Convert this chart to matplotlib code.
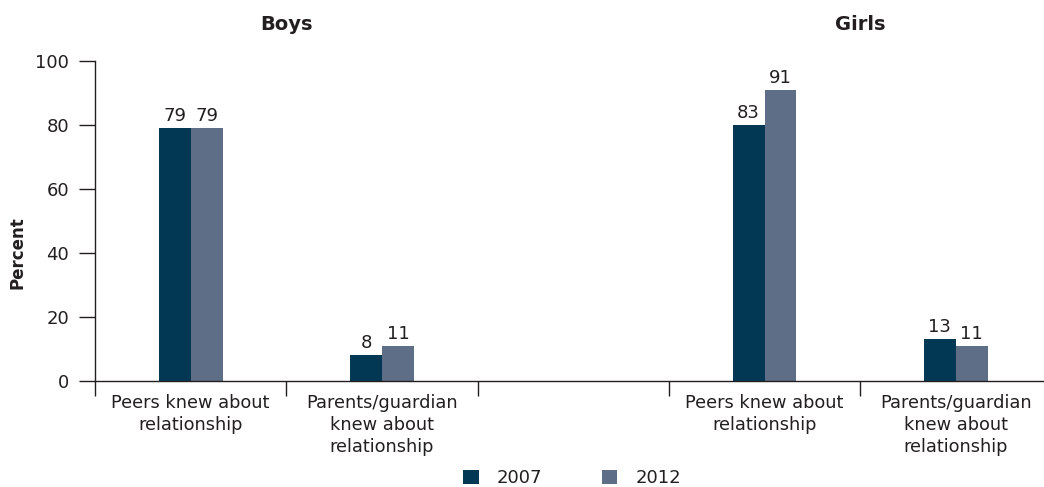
import matplotlib.pyplot as plt
import numpy as np

# data
categories = ["Peers knew about\nrelationship", "Parents/guardian\nknew about\nrelationship", "",
              "Peers knew about\nrelationship", "Parents/guardian\nknew about\nrelationship"]
years = ["2007", "2012"]
heights_2007 = [79, 8, np.nan, 80, 13]   # girls peers bar is drawn at 80 in the source
heights_2012 = [79, 11, np.nan, 91, 11]
labels_2007 = ["79", "8", "", "83", "13"]
labels_2012 = ["79", "11", "", "91", "11"]
groups = ["Boys", "Girls"]
yticks = [0, 20, 40, 60, 80, 100]

c07 = "#033855"
c12 = "#5f6e87"
txt = "#231f20"

plt.rcParams['font.family'] = ['DejaVu Sans']

fig = plt.figure(figsize=(10.44, 4.87), dpi=100)
ax = fig.add_axes([95 / 1044, 106 / 487, 956.5 / 1044, 320 / 487])

x = np.arange(len(categories))
w = 0.167
b1 = ax.bar(x - w / 2, heights_2007, w, color=c07, label=years[0])
b2 = ax.bar(x + w / 2, heights_2012, w, color=c12, label=years[1])

for bars, labs in ((b1, labels_2007), (b2, labels_2012)):
    for r, lab in zip(bars, labs):
        if lab:
            ax.text(r.get_x() + r.get_width() / 2, r.get_height() + 1.0, lab,
                    ha="center", va="bottom", fontsize=13, color=txt)

ax.set_xlim(-0.5, 4.5)
ax.set_ylim(0, 100)
ax.set_yticks(yticks)
ax.tick_params(axis="y", length=11.5, width=1, pad=7, labelsize=13, colors=txt)
ax.set_xticks(x)
ax.set_xticklabels(categories, fontsize=12.8, color=txt, linespacing=1.32)
ax.tick_params(axis="x", which="major", length=0, pad=9)
ax.set_xticks([-0.5, 0.5, 1.5, 2.5, 3.5], minor=True)
ax.tick_params(axis="x", which="minor", length=11, width=1, color="#231f20")
for s in ("top", "right"):
    ax.spines[s].set_visible(False)
for s in ("left", "bottom"):
    ax.spines[s].set_color("#231f20")
    ax.spines[s].set_linewidth(1)

ax.text(0.5, 1.115, groups[0], transform=ax.get_xaxis_transform(), ha="center", va="center",
        fontsize=14, fontweight="bold", color=txt)
ax.text(3.5, 1.115, groups[1], transform=ax.get_xaxis_transform(), ha="center", va="center",
        fontsize=14, fontweight="bold", color=txt)

fig.text(17 / 1044, 1 - 253 / 487, "Percent", rotation=90, ha="center", va="center",
         fontsize=12, fontweight="bold", color=txt)

fig.legend(handles=[b1, b2], labels=years, loc="center", bbox_to_anchor=(572 / 1044, 1 - 478 / 487),
           ncol=2, frameon=False, fontsize=13, handlelength=0.85, handleheight=0.85,
           columnspacing=3.3, handletextpad=1.0, labelcolor=txt)

fig.savefig("out.png", dpi=100)
